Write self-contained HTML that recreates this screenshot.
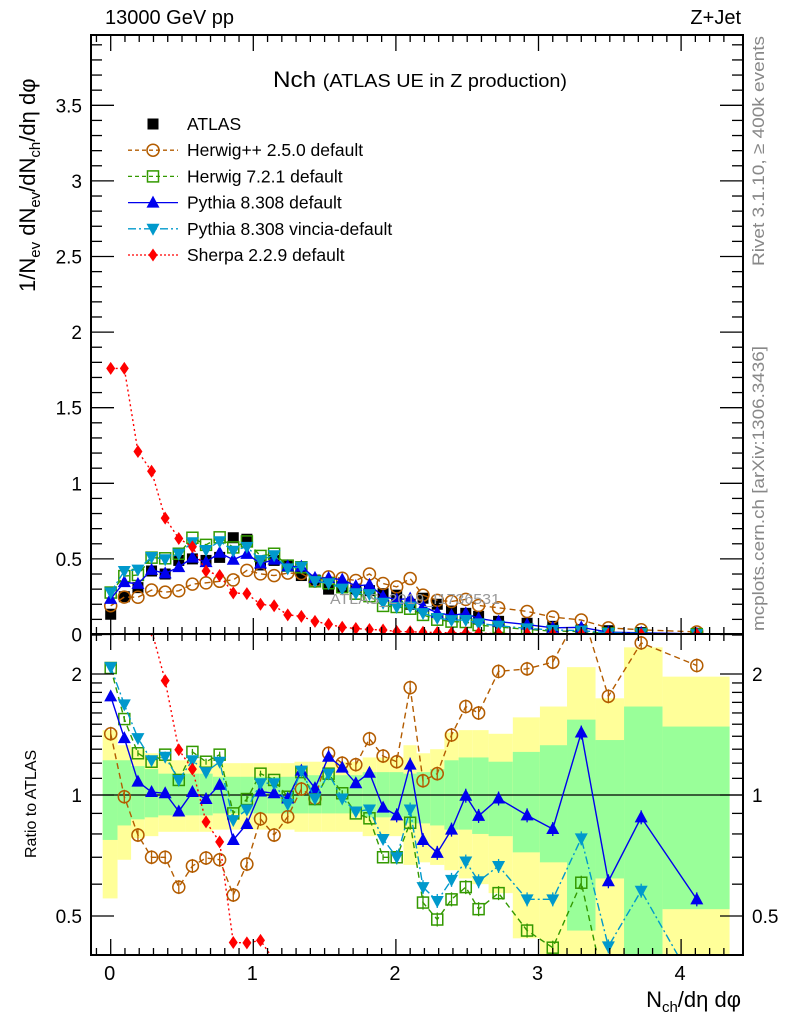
<!DOCTYPE html>
<html><head><meta charset="utf-8">
<style>
html,body{margin:0;padding:0;background:#fff;overflow:hidden;width:786px;height:1024px;}
svg{display:block;font-family:"Liberation Sans",Arial,sans-serif;}
</style></head>
<body>
<svg id="chart" width="786" height="1024" viewBox="0 0 786 1024" xmlns="http://www.w3.org/2000/svg">
<defs>
<clipPath id="clipTop"><rect x="91" y="35" width="652" height="599"/></clipPath>
<clipPath id="clipRat"><rect x="91" y="634" width="652" height="321"/></clipPath>
</defs>
<g id="bands" clip-path="url(#clipRat)"></g>
<g id="ratioLine"></g>
<g id="seriesTop" clip-path="url(#clipTop)"></g>
<g id="seriesRat" clip-path="url(#clipRat)"></g>
<g id="axes"></g>
<text x="330" y="604" font-size="15" fill="#999" textLength="170" lengthAdjust="spacingAndGlyphs">ATLAS_2019_I1736531</text>
<text x="105" y="24" font-size="20">13000 GeV pp</text>
<text x="741" y="24" font-size="20" text-anchor="end">Z+Jet</text>
<text x="273" y="87" font-size="22" textLength="294" lengthAdjust="spacingAndGlyphs">Nch <tspan font-size="18">(ATLAS UE in Z production)</tspan></text>
<text transform="translate(764,266) rotate(-90)" font-size="17" fill="#888" textLength="230" lengthAdjust="spacingAndGlyphs">Rivet 3.1.10, ≥ 400k events</text>
<text transform="translate(764,631) rotate(-90)" font-size="17" fill="#888" textLength="285" lengthAdjust="spacingAndGlyphs">mcplots.cern.ch [arXiv:1306.3436]</text>
<text transform="translate(35,292) rotate(-90)" font-size="22">1/N<tspan font-size="15" dy="5">ev</tspan><tspan dy="-5"> dN</tspan><tspan font-size="15" dy="5">ev</tspan><tspan dy="-5">/dN</tspan><tspan font-size="15" dy="5">ch</tspan><tspan dy="-5">/dη dφ</tspan></text>
<text transform="translate(36,858) rotate(-90)" font-size="16">Ratio to ATLAS</text>
<text x="741" y="1007" font-size="22" text-anchor="end">N<tspan font-size="15" dy="5">ch</tspan><tspan dy="-5">/dη dφ</tspan></text>
<g id="legend"></g>
</svg>
<script>
const xVals=[0,0.0955,0.191,0.2865,0.382,0.4775,0.573,0.6685,0.764,0.8595,0.955,1.0505,1.146,1.2415,1.337,1.4325,1.528,1.6235,1.719,1.8145,1.91,2.0055,2.10,2.19,2.29,2.39,2.49,2.58,2.72,2.92,3.10,3.30,3.49,3.72,4.11];
const binEdges=[-0.056,0.048,0.143,0.239,0.334,0.43,0.525,0.621,0.716,0.812,0.907,1.003,1.098,1.194,1.289,1.385,1.48,1.576,1.671,1.767,1.862,1.958,2.053,2.145,2.24,2.34,2.44,2.535,2.65,2.82,3.01,3.20,3.40,3.60,3.87,4.34];
const atlas=[0.134,0.25,0.31,0.42,0.40,0.49,0.50,0.49,0.51,0.64,0.63,0.46,0.49,0.46,0.39,0.36,0.30,0.31,0.30,0.29,0.27,0.26,0.20,0.24,0.20,0.155,0.14,0.12,0.087,0.074,0.054,0.033,0.025,0.013,0.008];
const herwigPPRatio=[1.42,0.99,0.795,0.70,0.70,0.59,0.666,0.697,0.69,0.564,0.673,0.872,0.795,0.883,1.035,0.98,1.27,1.20,1.19,1.38,1.25,1.21,1.85,1.085,1.13,1.41,1.66,1.60,2.03,2.06,2.14,2.9,1.76,2.39,2.10];
const herwig7Ratio=[2.07,1.545,1.27,1.21,1.26,1.09,1.28,1.21,1.26,0.90,0.977,1.13,1.09,0.99,1.14,0.977,1.13,1.01,0.90,0.875,0.70,0.70,0.853,0.54,0.49,0.55,0.59,0.52,0.57,0.46,0.417,0.605,0.30,0.25,0.22];
const pythiaRatio=[1.76,1.385,1.08,1.017,1.01,0.91,1.017,0.977,1.06,0.773,0.847,1.02,1.01,0.98,1.15,1.04,1.245,1.17,1.07,1.136,0.93,0.89,1.19,0.773,0.718,0.82,0.996,0.887,0.98,0.89,0.823,1.43,0.61,0.88,0.55];
const vinciaRatio=[2.08,1.68,1.385,1.22,1.245,1.09,1.22,1.14,1.21,0.866,0.92,1.07,1.07,0.95,1.15,0.98,1.13,0.98,0.91,0.92,0.777,0.70,0.92,0.59,0.545,0.615,0.683,0.61,0.666,0.55,0.55,0.78,0.42,0.578,0.33];
const sherpaTop=[1.76,1.76,1.21,1.08,0.77,0.635,0.58,0.42,0.39,0.275,0.27,0.20,0.19,0.13,0.12,0.087,0.068,0.048,0.04,0.033,0.03,0.02,0.018,0.015,0.013,0.011,0.01,0.008,0.007,0.005,0.004,0.003,0.002,0.0015,0.001];
const yellowLo=[0.553,0.69,0.78,0.79,0.81,0.81,0.81,0.81,0.82,0.82,0.82,0.82,0.82,0.82,0.81,0.81,0.81,0.81,0.81,0.79,0.79,0.79,0.67,0.68,0.67,0.65,0.62,0.60,0.57,0.44,0.30,0.30,0.30,0.30,0.30];
const greenLo=[0.773,0.84,0.87,0.88,0.89,0.89,0.89,0.89,0.90,0.90,0.90,0.90,0.90,0.90,0.90,0.90,0.90,0.90,0.90,0.88,0.88,0.88,0.85,0.85,0.84,0.82,0.82,0.80,0.79,0.72,0.68,0.46,0.62,0.30,0.52];
const greenHi=[1.22,1.22,1.18,1.16,1.13,1.13,1.13,1.13,1.11,1.11,1.11,1.11,1.11,1.11,1.12,1.12,1.12,1.12,1.12,1.14,1.14,1.14,1.13,1.14,1.16,1.22,1.24,1.24,1.21,1.28,1.33,1.54,1.37,1.66,1.48];
const yellowHi=[1.45,1.33,1.30,1.27,1.22,1.22,1.22,1.22,1.20,1.20,1.20,1.20,1.20,1.20,1.21,1.21,1.21,1.21,1.21,1.24,1.24,1.24,1.33,1.27,1.30,1.43,1.45,1.45,1.42,1.56,1.66,2.08,1.74,2.33,1.97];
const yTickLabels=["0","0.5","1","1.5","2","2.5","3","3.5"];
const xTickLabels=["0","1","2","3","4"];
const ratioTickLabels=["0.5","1","2"];

const NS="http://www.w3.org/2000/svg";
function X(v){return 110.7+v*142.6;}
function YT(v){return 634.5-v*151.2;}
function YR(r){return 795-121*Math.log2(Math.min(Math.max(r,0.3),20));}
function mk(tag,attrs,parent){const e=document.createElementNS(NS,tag);for(const k in attrs)e.setAttribute(k,attrs[k]);parent.appendChild(e);return e;}

const gB=document.getElementById('bands');
for(let i=0;i<xVals.length;i++){
  const x0=X(binEdges[i]),x1=X(binEdges[i+1]);
  let r=mk('rect',{x:x0,y:YR(yellowHi[i]),width:x1-x0,height:YR(yellowLo[i])-YR(yellowHi[i]),fill:'#ffff99'},gB);
  
  
  r=mk('rect',{x:x0,y:YR(greenHi[i]),width:x1-x0,height:YR(greenLo[i])-YR(greenHi[i]),fill:'#99ff99'},gB);
  
  
}
const ul=mk('line',{x1:91,x2:743,y1:YR(1),y2:YR(1),stroke:'#000','stroke-width':1.3},document.getElementById('ratioLine'));



function marker(type,x,y,color,parent){
  let e;
  if(type==='sq') e=mk('rect',{x:x-5.5,y:y-5.5,width:11,height:11,fill:'#000'},parent);
  else if(type==='circ') e=mk('circle',{cx:x,cy:y,r:6,fill:'none',stroke:color,'stroke-width':1.5},parent);
  else if(type==='osq') e=mk('rect',{x:x-5.5,y:y-5.5,width:11,height:11,fill:'none',stroke:color,'stroke-width':1.5},parent);
  else if(type==='tri') e=mk('polygon',{points:`${x},${y-7} ${x-6.5},${y+5} ${x+6.5},${y+5}`,fill:color},parent);
  else if(type==='itri') e=mk('polygon',{points:`${x},${y+7} ${x-6.5},${y-5} ${x+6.5},${y-5}`,fill:color},parent);
  else if(type==='dia') e=mk('polygon',{points:`${x},${y-6.5} ${x-4.5},${y} ${x},${y+6.5} ${x+4.5},${y}`,fill:color},parent);
  return e;
}
const series=[
 {name:'herwigpp',ratio:herwigPPRatio,color:'#b35c00',dash:'6,4',m:'circ'},
 {name:'herwig7',ratio:herwig7Ratio,color:'#339900',dash:'6,4',m:'osq'},
 {name:'pythia',ratio:pythiaRatio,color:'#0000ee',dash:'',m:'tri'},
 {name:'vincia',ratio:vinciaRatio,color:'#0099cc',dash:'8,3,2,3',m:'itri'},
 {name:'sherpa',ratio:sherpaTop.map((v,i)=>v/atlas[i]),color:'#ff0000',dash:'2,3',m:'dia'}
];
const gT=document.getElementById('seriesTop'),gR=document.getElementById('seriesRat');
atlas.forEach((v,i)=>{const e=marker('sq',X(xVals[i]),YT(v),'#000',gT);
  
  });
series.forEach(s=>{
  const top=s.ratio.map((r,i)=>r*atlas[i]);
  const pT=xVals.map((x,i)=>X(x)+','+YT(top[i])).join(' ');
  const pR=xVals.map((x,i)=>X(x)+','+YR(s.ratio[i])).join(' ');
  let l=mk('polyline',{points:pT,fill:'none',stroke:s.color,'stroke-width':1.4,'stroke-dasharray':s.dash},gT);
  
  
  l=mk('polyline',{points:pR,fill:'none',stroke:s.color,'stroke-width':1.4,'stroke-dasharray':s.dash},gR);
  
  
  xVals.forEach((x,i)=>{
    let e=marker(s.m,X(x),YT(top[i]),s.color,gT);
    
    
    const yr=YR(s.ratio[i]);
    if(yr>975||yr<615) return;
    if(s.m!=='dia'){
      const err=(s.name==='herwigpp'||i>20)?7:3;
      let eb=mk('line',{x1:X(x),x2:X(x),y1:yr-err,y2:yr+err,stroke:s.color,'stroke-width':1.3},gR);
      
      
    }
    e=marker(s.m,X(x),yr,s.color,gR);
    
    
  });
});

const gA=document.getElementById('axes');
function ln(x1,y1,x2,y2,w){return mk('line',{x1,y1,x2,y2,stroke:'#000','stroke-width':w||1.3},gA);}
let fr=mk('rect',{x:91,y:35,width:652,height:599,fill:'none',stroke:'#000','stroke-width':2},gA);


fr=mk('rect',{x:91,y:634,width:652,height:321,fill:'none',stroke:'#000','stroke-width':2},gA);


for(let k=0;k<=39;k++){const v=k/10,y=YT(v);if(y<35)break;const maj=k%5===0;const L=maj?23:11;
  ln(91,y,91+L,y);ln(743,y,743-L,y);}
yTickLabels.forEach((t,i)=>{const e=mk('text',{x:82,y:YT(i*0.5)+7,'font-size':19,'text-anchor':'end'},gA);e.textContent=t;
  
  });
for(let k=-1;k<=43;k++){const v=k/10,x=X(v);if(x<91||x>743)continue;const maj=k%10===0;const L=maj?16:7;
  ln(x,634,x,634-L);ln(x,634,x,634+L);ln(x,955,x,955-L);ln(x,35,x,35+L);}
xTickLabels.forEach((t,i)=>{const e=mk('text',{x:X(i)-1,y:980,'font-size':20,'text-anchor':'middle'},gA);e.textContent=t;
  
  });
const rt=[0.4,0.5,0.6,0.7,0.8,0.9,1,1.1,1.2,1.3,1.4,1.5,1.6,1.7,1.8,1.9,2,2.5];
rt.forEach(r=>{const y=YR(r);const maj=(r===0.5||r===1||r===2);const L=maj?23:11;ln(91,y,91+L,y);ln(743,y,743-L,y);});
ratioTickLabels.forEach(t=>{const y=YR(parseFloat(t))+7;
  let e=mk('text',{x:82,y,'font-size':19,'text-anchor':'end'},gA);e.textContent=t;
  
  
  e=mk('text',{x:752,y,'font-size':19},gA);e.textContent=t;
  
  });

const gL=document.getElementById('legend');
const leg=[['ATLAS','sq','#000',''],['Herwig++ 2.5.0 default','circ','#b35c00','4,3'],['Herwig 7.2.1 default','osq','#339900','4,3'],['Pythia 8.308 default','tri','#0000ee',''],['Pythia 8.308 vincia-default','itri','#0099cc','8,3,2,3'],['Sherpa 2.2.9 default','dia','#ff0000','2,2']];
leg.forEach((d,i)=>{const y=124+i*26.2;
  if(i>0){const l=mk('line',{x1:128,x2:178,y1:y,y2:y,stroke:d[2],'stroke-width':1.3,'stroke-dasharray':d[3]},gL);
    
    }
  const m=marker(d[1],153,y,d[2],gL);
  
  
  const t=mk('text',{x:187,y:y+6,'font-size':17.5},gL);t.textContent=d[0];
  
  
});
</script>
</body></html>
